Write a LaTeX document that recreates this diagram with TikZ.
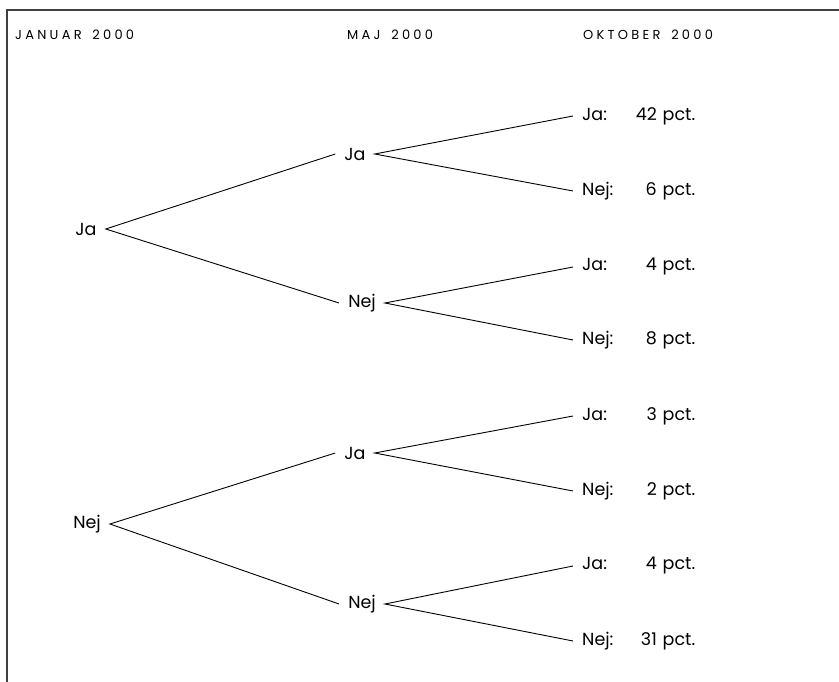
\documentclass[tikz,border=0pt]{standalone}
\usepackage{fontspec}
\setmainfont{Poppins}
\newfontfamily\headfont[LetterSpace=25,WordSpace=1.6]{Poppins}
\begin{document}
\begin{tikzpicture}[x=1pt,y=-1pt,
  frame/.style={draw=black!75,line width=1.4pt},
  head/.style={anchor=base west,inner sep=0pt,font=\headfont\fontsize{13}{15}\selectfont},
  lbl/.style={inner xsep=9pt,inner ysep=0pt,font=\fontsize{17.5}{20}\selectfont},
  leaf/.style={anchor=west,inner xsep=9pt,inner ysep=0pt,text width=113pt,font=\fontsize{17.5}{20}\selectfont},
  conn/.style={draw=black,line width=0.9pt}]
\useasboundingbox (0,0) rectangle (839,682);
\draw[frame] (839,10) -- (7,10) -- (7,682);
\node[head] (h1) at (15,40) {JANUAR 2000};
\node[head] (h2) at (347,40) {MAJ 2000};
\node[head] (h3) at (583,40) {OKTOBER 2000};
% level 0
\node[lbl] (a) at (86,229) {Ja};
\node[lbl] (b) at (87,524) {Nej};
% level 1
\node[lbl] (aa) at (355,154) {Ja};
\node[lbl] (ab) at (362,303) {Nej};
\node[lbl] (ba) at (355,453) {Ja};
\node[lbl] (bb) at (362,604) {Nej};
% leaves
\node[leaf] (l1) at (573,116) {Ja:\hfill 42 pct.};
\node[leaf] (l2) at (573,191) {Nej:\hfill 6 pct.};
\node[leaf] (l3) at (573,267) {Ja:\hfill 4 pct.};
\node[leaf] (l4) at (573,340) {Nej:\hfill 8 pct.};
\node[leaf] (l5) at (573,416) {Ja:\hfill 3 pct.};
\node[leaf] (l6) at (573,491) {Nej:\hfill 2 pct.};
\node[leaf] (l7) at (573,566) {Ja:\hfill 4 pct.};
\node[leaf] (l8) at (573,641) {Nej:\hfill 31 pct.};
% connectors
\draw[conn] (aa.west) -- (a.east) -- (ab.west);
\draw[conn] (ba.west) -- (b.east) -- (bb.west);
\draw[conn] (l1.west) -- (aa.east) -- (l2.west);
\draw[conn] (l3.west) -- (ab.east) -- (l4.west);
\draw[conn] (l5.west) -- (ba.east) -- (l6.west);
\draw[conn] (l7.west) -- (bb.east) -- (l8.west);
\end{tikzpicture}
\end{document}
